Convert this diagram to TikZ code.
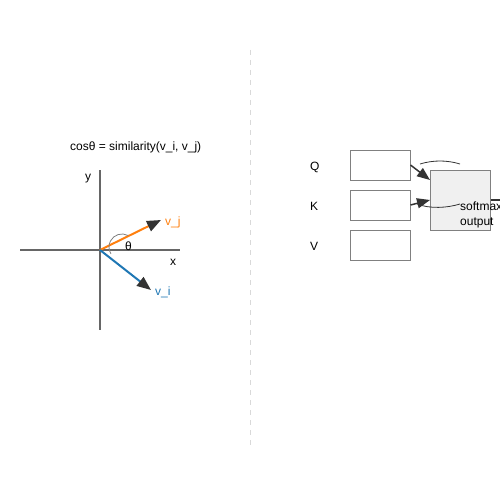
\documentclass[tikz,border=0pt]{standalone}
\usepackage{fontspec}
\setmainfont{Liberation Sans}
\usetikzlibrary{arrows.meta}

\begin{document}
\begin{tikzpicture}
            [x=1pt, y=-1pt,
            every node/.style={inner sep=0pt, font=\fontsize{12}{14}\selectfont},
            lbl/.style={anchor=base west},
            axis/.style={line width=2pt, axiscolor},
            vec/.style={line width=2pt, -{Triangle[length=14pt, width=11pt, color=headcolor]}},
            box/.style={draw=boxcolor, line width=1pt, fill=white, minimum width=60pt, minimum height=30pt},
            softbox/.style={draw=boxcolor, line width=1pt, fill=softfill, minimum width=60pt, minimum height=60pt},
            link/.style={line width=1.5pt, headcolor, -{Triangle[length=13pt, width=10pt]}},
            curve/.style={line width=0.8pt, headcolor},
            ]
            \definecolor{vjcolor}{HTML}{FF7F0E}
            \definecolor{vicolor}{HTML}{1F77B4}
            \colorlet{axiscolor}{black!60}
            \colorlet{headcolor}{black!80}
            \colorlet{boxcolor}{black!50}
            \colorlet{softfill}{black!6}
            \useasboundingbox (0,0) rectangle (500,500);

            % left: vectors and angle
            \begin{scope}
                \node[lbl] (title) at (70,150) {cosθ = similarity(v\_i, v\_j)};
                \coordinate (O) at (100,250);
                \coordinate (xl) at (20,250);
                \coordinate (xr) at (180,250);
                \coordinate (yt) at (100,170);
                \coordinate (yb) at (100,330);
                \coordinate (vj) at (161,220);
                \coordinate (vi) at (151,290);
                \draw[axis] (xl) -- (xr);
                \draw[axis] (yt) -- (yb);
                \node[lbl] (ylbl) at (85,180) {y};
                \node[lbl] (xlbl) at (170,265) {x};
                \draw[vec, vjcolor] (O) -- (vj);
                \draw[vec, vicolor] (O) -- (vi);
                \draw[black!50, line width=0.8pt] (128.1,235.5) arc[start angle=-62, end angle=-212, radius=13];
                \node[lbl] (theta) at (125,250) {θ};
                \node[lbl, text=vjcolor] (vjlbl) at (165,225) {v\_j};
                \node[lbl, text=vicolor] (vilbl) at (155,295) {v\_i};
            \end{scope}

            \draw[black!15, line width=1pt, dash pattern=on 5pt off 5pt] (250,50) -- (250,445);

            % right: attention
            \begin{scope}
                \node[lbl] (qlbl) at (310,170) {Q};
                \node[lbl] (klbl) at (310,210) {K};
                \node[lbl] (vlbl) at (310,250) {V};
                \node[box] (qbox) at (380,165) {};
                \node[box] (kbox) at (380,205) {};
                \node[box] (vbox) at (380,245) {};
                \node[softbox] (soft) at (460,200) {};
                \coordinate (qin) at (430,180);
                \coordinate (kin) at (430,200);
                \coordinate (outend) at (500,200);
                \draw[link] (qbox.east) -- (qin);
                \draw[link] (kbox.east) -- (kin);
                \draw[line width=1.5pt, headcolor] (soft.east) -- (outend);
                \draw[curve] (420,164) .. controls (433,160) and (447,160) .. (460,164);
                \draw[curve] (417,204) .. controls (430,209) and (447,208) .. (460,204);
                \node[lbl] (smlbl) at (460,210) {softmax};
                \node[lbl] (outlbl) at (460,225) {output};
            \end{scope}
\end{tikzpicture}
\end{document}
